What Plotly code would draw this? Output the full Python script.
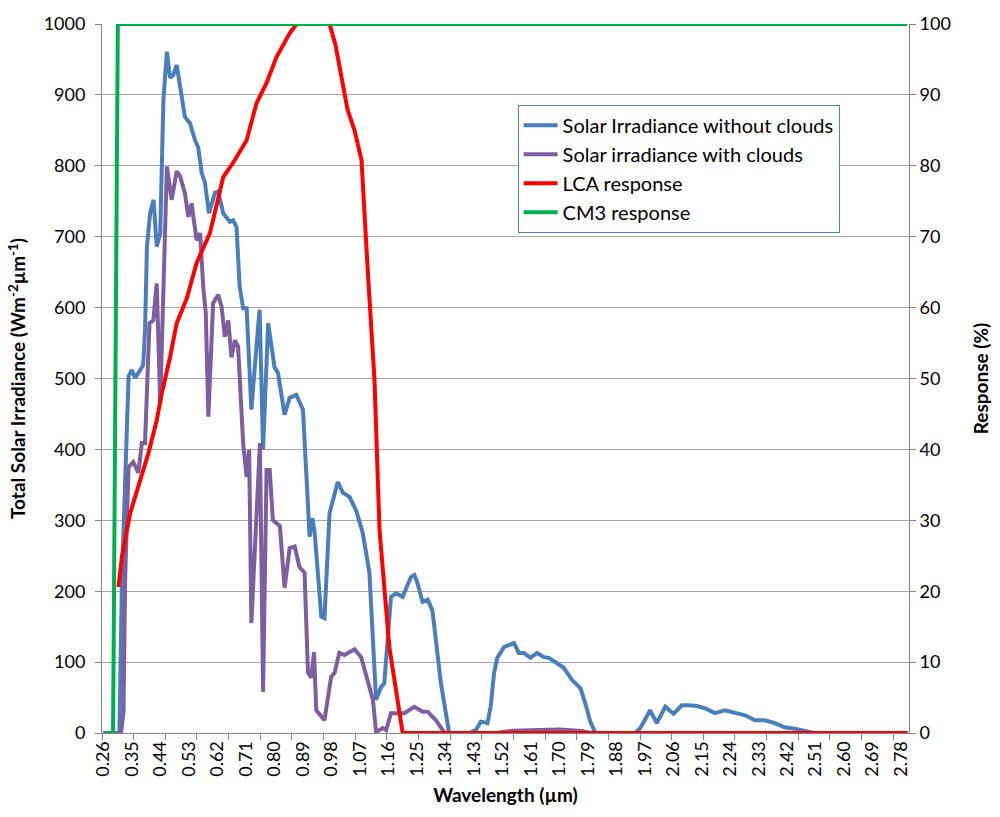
import plotly.graph_objects as go

# ---- data ----
# Solar irradiance without clouds (W m^-2 um^-1)
wl_clear = [0.26, 0.31, 0.318, 0.339, 0.349, 0.36, 0.376, 0.385, 0.391, 0.397, 0.407, 0.418,
            0.428, 0.439, 0.449, 0.46, 0.47, 0.48, 0.491, 0.502, 0.517, 0.533, 0.549, 0.559,
            0.57, 0.58, 0.593, 0.612, 0.622, 0.638, 0.659, 0.669, 0.68, 0.69, 0.701, 0.712,
            0.727, 0.743, 0.753, 0.764, 0.78, 0.8, 0.811, 0.832, 0.848, 0.869, 0.89, 0.911,
            0.92, 0.927, 0.948, 0.958, 0.974, 1.0, 1.016, 1.037, 1.058, 1.079, 1.1, 1.121,
            1.137, 1.147, 1.168, 1.184, 1.205, 1.231, 1.242, 1.252, 1.268, 1.284, 1.299,
            1.326, 1.352, 1.415, 1.436, 1.452, 1.473, 1.483, 1.494, 1.504, 1.525, 1.557,
            1.572, 1.588, 1.609, 1.63, 1.651, 1.667, 1.688, 1.714, 1.74, 1.767, 1.782, 1.798,
            1.814, 1.94, 1.956, 1.987, 2.008, 2.035, 2.061, 2.087, 2.108, 2.134, 2.16, 2.192,
            2.223, 2.26, 2.287, 2.318, 2.349, 2.381, 2.412, 2.444, 2.475, 2.505, 2.80]
irr_clear = [0, 0, 216, 503, 512, 501, 512, 519, 568, 686, 733, 752,
             686, 705, 893, 961, 924, 928, 942, 911, 869, 860, 836, 826,
             790, 777, 733, 762, 764, 733, 721, 723, 714, 630, 599, 599,
             456, 545, 597, 400, 578, 516, 508, 449, 473, 477, 456, 277,
             303, 282, 164, 162, 310, 354, 339, 333, 314, 282, 226, 47,
             65, 70, 192, 197, 192, 220, 223, 211, 185, 188, 173,
             70, 0, 0, 4, 16, 14, 37, 85, 106, 121, 127,
             113, 113, 106, 113, 107, 106, 100, 92, 75, 63, 42, 16,
             0, 0, 7, 32, 14, 37, 27, 39, 39, 38, 35, 28,
             32, 28, 25, 18, 18, 14, 8, 6, 3, 0, 0]

# Solar irradiance with clouds (W m^-2 um^-1)
wl_cloudy = [0.26, 0.315, 0.323, 0.328, 0.339, 0.354, 0.37, 0.381, 0.391, 0.405, 0.417, 0.428,
             0.439, 0.46, 0.475, 0.491, 0.502, 0.517, 0.528, 0.538, 0.554, 0.565, 0.575,
             0.583, 0.591, 0.606, 0.622, 0.633, 0.643, 0.654, 0.664, 0.675, 0.685, 0.701,
             0.712, 0.72, 0.727, 0.741, 0.754, 0.764, 0.775, 0.785, 0.795, 0.817, 0.832,
             0.848, 0.864, 0.879, 0.895, 0.906, 0.916, 0.925, 0.932, 0.958, 0.979, 0.99,
             1.005, 1.021, 1.037, 1.053, 1.074, 1.095, 1.111, 1.121, 1.142, 1.153, 1.168,
             1.184, 1.21, 1.242, 1.268, 1.284, 1.31, 1.336, 1.352, 1.5, 1.55, 1.7, 1.77,
             1.8, 2.80]
irr_cloudy = [0, 0, 30, 216, 375, 382, 367, 409, 409, 578, 582, 634,
              465, 799, 752, 792, 785, 761, 728, 747, 695, 705, 629,
              592, 446, 606, 618, 601, 559, 582, 530, 554, 545, 409,
              361, 399, 155, 300, 409, 58, 371, 371, 300, 292, 205,
              261, 263, 234, 226, 85, 78, 114, 32, 18, 79, 85,
              113, 110, 114, 118, 107, 75, 47, 1, 7, 4, 28,
              28, 28, 37, 30, 30, 18, 1, 0, 0, 3, 5, 3,
              0, 0]

# LCA response (%)
wl_lca = [0.307, 0.318, 0.344, 0.376, 0.402, 0.428, 0.444, 0.47, 0.491, 0.523, 0.554, 0.596,
          0.638, 0.669, 0.712, 0.743, 0.775, 0.806, 0.848, 0.87, 0.974, 0.993, 1.012, 1.031,
          1.053, 1.075, 1.095, 1.116, 1.132, 1.147, 1.163, 1.205, 2.80]
lca_resp = [20.6, 24.9, 31.0, 35.7, 39.5, 44.1, 47.9, 53.0, 57.8, 61.3, 66.3, 70.5,
            78.4, 80.4, 83.6, 88.8, 91.7, 95.3, 98.7, 100, 100, 97.0, 92.1, 87.9,
            85.0, 80.8, 65.0, 49.8, 28.6, 20.0, 12.1, 0, 0]

# CM3 response (%)
wl_cm3 = [0.26, 0.29, 0.305, 2.80]
cm3_resp = [0, 0, 100, 100]

tick_labels = ["0.26", "0.35", "0.44", "0.53", "0.62", "0.71", "0.80", "0.89", "0.98", "1.07",
               "1.16", "1.25", "1.34", "1.43", "1.52", "1.61", "1.70", "1.79", "1.88", "1.97",
               "2.06", "2.15", "2.24", "2.33", "2.42", "2.51", "2.60", "2.69", "2.78"]
tick_positions = [float(t) for t in tick_labels]
boundary_ticks = [0.255 + 0.1 * k for k in range(26)]

FONT = "Lato"
AXIS_GREY = "#868686"
GRID_GREY = "#a6a6a6"
TICK_SIZE = 18
TITLE_SIZE = 19

fig = go.Figure()
fig.add_trace(go.Scatter(x=wl_clear, y=irr_clear, mode="lines", name="Solar Irradiance without clouds",
                         legendgroup="a", line=dict(color="#4a7ebb", width=4)))
fig.add_trace(go.Scatter(x=wl_cloudy, y=irr_cloudy, mode="lines", name="Solar irradiance with clouds",
                         legendgroup="b", line=dict(color="#7d5fa0", width=4)))
fig.add_trace(go.Scatter(x=wl_lca, y=lca_resp, mode="lines", name="LCA response", yaxis="y2",
                         legendgroup="c", line=dict(color="#ff0000", width=4)))
fig.add_trace(go.Scatter(x=wl_cm3, y=cm3_resp, mode="lines", name="CM3 response", yaxis="y2",
                         legendgroup="d", line=dict(color="#00b050", width=4)))

fig.update_layout(
    width=1000, height=817,
    margin=dict(l=102, r=88, t=24, b=84),
    paper_bgcolor="white", plot_bgcolor="white",
    font=dict(family=FONT, size=TICK_SIZE, color="#000000"),
    showlegend=True,
    legend=dict(x=0.515, y=0.886, xanchor="left", yanchor="top",
                bgcolor="white", bordercolor="#4f81bd", borderwidth=1,
                font=dict(family=FONT, size=20), itemwidth=34, tracegroupgap=6,
                traceorder="normal"),
    xaxis=dict(range=[0.255, 2.805], tickmode="array", tickvals=tick_positions, ticktext=tick_labels,
               tickangle=-90, ticks="", showgrid=False, zeroline=False,
               showline=True, linecolor=AXIS_GREY, linewidth=1,
               tickfont=dict(family=FONT, size=TICK_SIZE),
               minor=dict(tickmode="array", tickvals=boundary_ticks, ticks="outside",
                          ticklen=6, tickcolor=AXIS_GREY, showgrid=False),
               title=dict(text="<b>Wavelength (µm)</b>", font=dict(family=FONT, size=TITLE_SIZE),
                          standoff=12)),
    yaxis=dict(range=[0, 1000], dtick=100, tickmode="linear", tick0=0,
               showgrid=True, gridcolor=GRID_GREY, gridwidth=1, zeroline=False,
               showline=True, linecolor=AXIS_GREY, ticks="outside", ticklen=6, tickcolor=AXIS_GREY,
               ticklabelstandoff=6,
               tickfont=dict(family=FONT, size=TICK_SIZE),
               title=dict(text="<b>Total Solar Irradiance (Wm<sup>-2</sup>µm<sup>-1</sup>)</b>",
                          font=dict(family=FONT, size=TITLE_SIZE), standoff=12)),
    yaxis2=dict(range=[0, 100], dtick=10, tickmode="linear", tick0=0, overlaying="y", side="right",
                showgrid=False, zeroline=False, showline=True, linecolor=AXIS_GREY,
                ticks="outside", ticklen=6, tickcolor=AXIS_GREY,
                tickfont=dict(family=FONT, size=TICK_SIZE),
                title=dict(text="<b>Response (%)</b>", font=dict(family=FONT, size=TITLE_SIZE),
                           standoff=24)),
)

fig.write_html("out.html")
